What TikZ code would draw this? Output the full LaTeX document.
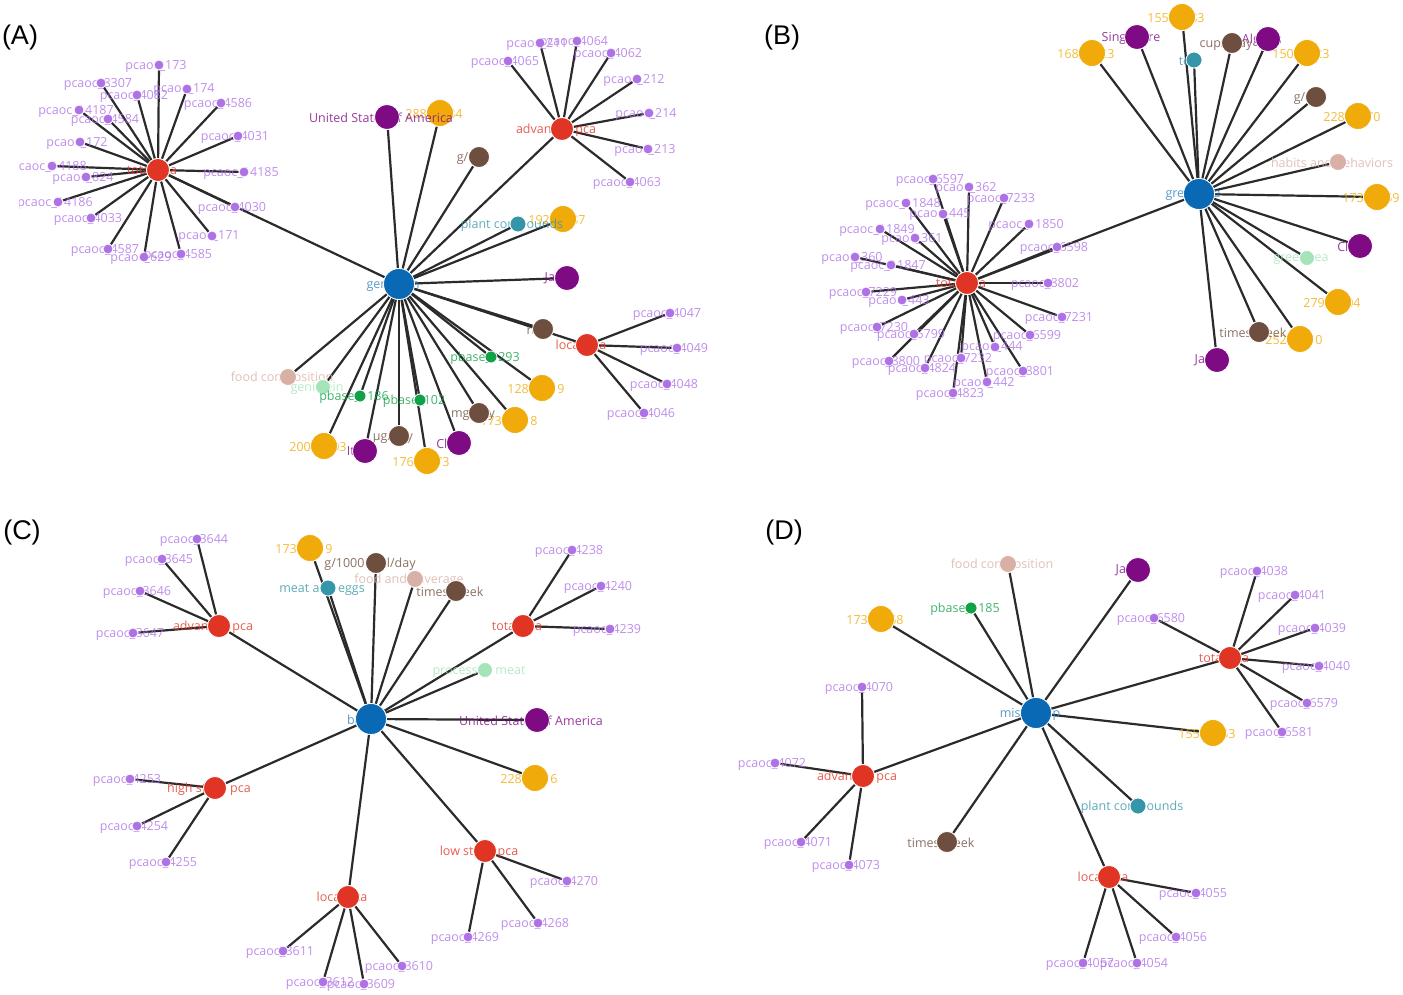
\documentclass[tikz,border=0pt]{standalone}
\usepackage{fontspec}
\setmainfont{Open Sans}
\newfontfamily\panelfont{Liberation Sans}

\definecolor{hubc}{HTML}{0A69B4}
\definecolor{pcac}{HTML}{E03424}
\definecolor{leafc}{HTML}{AE72E6}
\definecolor{ctyc}{HTML}{7E0A84}
\definecolor{pmidc}{HTML}{F0AA0A}
\definecolor{unitc}{HTML}{6E4E3E}
\definecolor{cmpdc}{HTML}{3496A8}
\definecolor{catc}{HTML}{D8B0A6}
\definecolor{chemc}{HTML}{A4E4B8}
\definecolor{pbasec}{HTML}{12A048}
\definecolor{edgec}{HTML}{2B2B2B}

\pgfdeclarelayer{links}
\pgfsetlayers{links,main}

% label first, its dot over it
\newcommand{\gnode}[6][-6]{%
  \begin{scope}
    \clip (19,0) rectangle (1403,995);
    \node[#3 txt] at (#4+#1,#5+1) {#6};
  \end{scope}
  \node[#3] (#2) at (#4,#5) {};}
\newcommand{\wire}[2]{%
  \begin{pgfonlayer}{links}\draw[wirestyle] (#1) -- (#2);\end{pgfonlayer}}

\begin{document}
\begin{tikzpicture}[
    x=0.5pt,
    y=-0.5pt,
    gdot/.style={circle, draw=white, line width=0.4pt, inner sep=0pt},
    hubn/.style={gdot, fill=hubc, minimum size=15.5pt},
    pcan/.style={gdot, fill=pcac, minimum size=11.5pt},
    leafn/.style={gdot, fill=leafc, minimum size=5pt},
    ctyn/.style={gdot, fill=ctyc, minimum size=12.5pt},
    pmidn/.style={gdot, fill=pmidc, minimum size=13.5pt},
    unitn/.style={gdot, fill=unitc, minimum size=10.5pt},
    cmpdn/.style={gdot, fill=cmpdc, minimum size=8pt},
    catn/.style={gdot, fill=catc, minimum size=8.5pt},
    chemn/.style={gdot, fill=chemc, minimum size=7.5pt},
    pbasen/.style={gdot, fill=pbasec, minimum size=6pt},
    lbl/.style={overlay, inner sep=0pt, text opacity=0.8,
      font=\fontsize{6.25}{7}\selectfont},
    hubn txt/.style={lbl, text=hubc!85!white},
    pcan txt/.style={lbl, text=pcac},
    leafn txt/.style={lbl, text=leafc},
    ctyn txt/.style={lbl, text=ctyc},
    pmidn txt/.style={lbl, text=pmidc},
    unitn txt/.style={lbl, text=unitc},
    cmpdn txt/.style={lbl, text=cmpdc},
    catn txt/.style={lbl, text=catc},
    chemn txt/.style={lbl, text=chemc},
    pbasen txt/.style={lbl, text=pbasec},
    wirestyle/.style={draw=edgec, line width=1.1pt},
    panel/.style={inner sep=0pt, font=\panelfont\fontsize{13.5}{14}\selectfont}
]
\path[use as bounding box] (0,0) rectangle (1403,995);

% ---------- (A)
\node[panel] (labA) at (20,38) {(A)};
\gnode{hA}{hubn}{399}{284}{genistein}
\gnode{tA}{pcan}{158}{170}{total pca}
\gnode{aA}{pcan}{562}{129}{advanced pca}
\gnode{lA}{pcan}{587}{345}{local pca}
\gnode{p288}{pmidn}{440}{113}{28856184}
\gnode{usaA}{ctyn}{387}{117}{United States of America}
\gnode{gdA}{unitn}{479}{157}{g/day}
\gnode{p192}{pmidn}{563}{219}{19266137}
\gnode{pcA}{cmpdn}{518}{224}{plant compounds}
\gnode{jaA}{ctyn}{567}{278}{Japan}
\gnode{riA}{unitn}{543}{329}{risk}
\gnode{pb1293}{pbasen}{491}{357}{pbase\_1293}
\gnode{p128}{pmidn}{542}{388}{12846119}
\gnode{fcA}{catn}{288}{377}{food composition}
\gnode{geA}{chemn}{323}{387}{genistein}
\gnode{pb1186}{pbasen}{360}{396}{pbase\_1186}
\gnode{pb102}{pbasen}{420}{400}{pbase\_102}
\gnode{p173A}{pmidn}{515}{420}{17353218}
\gnode{mgA}{unitn}{479}{413}{mg/day}
\gnode{ugA}{unitn}{399}{436}{µg/day}
\gnode{chA}{ctyn}{459}{443}{China}
\gnode{itA}{ctyn}{365}{451}{Italy}
\gnode{p200}{pmidn}{324}{446}{20087003}
\gnode{p176}{pmidn}{427}{461}{17632373}
\foreach \n in {tA,usaA,p288,gdA,aA,pcA,p192,jaA,riA,lA,pb1293,p128,fcA,geA,
  pb1186,pb102,mgA,p173A,ugA,chA,itA,p200,p176}
  {\wire{hA}{\n}}
\foreach \t/\x/\y in {173/159/65, 8307/101/83, 4082/137/95, 174/187/89,
  14187/79/110, 4586/221/103, 4584/108/119, 172/80/142, 4031/238/136,
  14188/52/166, 824/86/177, 14186/58/202, 4033/91/218, 14185/244/172,
  4030/235/207, 171/212/236, 4587/108/249, 629/144/257, 4585/181/254}
  {\gnode[-3]{a\t}{leafn}{\x}{\y}{pcaoc\_\t}\wire{tA}{a\t}}
\foreach \t/\x/\y in {4065/508/61, 211/540/43, 4064/577/41, 4062/611/53,
  212/637/79, 214/649/113, 213/648/149, 4063/630/182}
  {\gnode[-3]{a\t}{leafn}{\x}{\y}{pcaoc\_\t}\wire{aA}{a\t}}
\foreach \t/\x/\y in {4047/670/313, 4049/677/348, 4048/667/384, 4046/644/413}
  {\gnode[-3]{a\t}{leafn}{\x}{\y}{pcaoc\_\t}\wire{lA}{a\t}}

% ---------- (B)
\node[panel] (labB) at (782,38) {(B)};
\gnode{hB}{hubn}{1199}{194}{green tea}
\gnode{tB}{pcan}{967}{283}{total pca}
\gnode{p155B}{pmidn}{1182}{17}{15523683}
\gnode{p168}{pmidn}{1092}{53}{16829823}
\gnode{sgB}{ctyn}{1137}{37}{Singapore}
\gnode{teaB}{cmpdn}{1194}{60}{tea}
\gnode{alB}{ctyn}{1268}{39}{Algeria}
\gnode{cupB}{unitn}{1232}{43}{cups/day}
\gnode{p150}{pmidn}{1307}{53}{15047723}
\gnode{gdB}{unitn}{1316}{97}{g/day}
\gnode{p228B}{pmidn}{1358}{116}{22815470}
\gnode{hbB}{catn}{1338}{162}{habits and behaviors}
\gnode{p173B}{pmidn}{1377}{197}{17349559}
\gnode{chB}{ctyn}{1360}{246}{China}
\gnode{gtB}{chemn}{1307}{258}{green tea}
\gnode{p279}{pmidn}{1338}{302}{27926404}
\gnode{p252}{pmidn}{1300}{339}{25246210}
\gnode{twB}{unitn}{1259}{332}{times/week}
\gnode{jaB}{ctyn}{1217}{360}{Japan}
\foreach \n in {tB,p155B,sgB,p168,teaB,cupB,alB,p150,gdB,p228B,hbB,p173B,
  chB,gtB,p279,twB,p252,jaB}
  {\wire{hB}{\n}}
\foreach \t/\x/\y in {6597/933/179, 362/969/187, 7233/1004/198,
  11848/906/203, 445/943/214, 11850/1029/224, 11849/880/229, 361/915/238,
  6598/1057/247, 360/855/257, 11847/891/265, 8802/1048/283, 7229/866/292,
  443/902/300, 7231/1062/317, 7230/877/327, 5799/914/334, 6599/1030/335,
  444/995/347, 8800/889/361, 7232/961/358, 4824/925/368, 8801/1023/371,
  442/987/382, 4823/953/393}
  {\gnode[-3]{b\t}{leafn}{\x}{\y}{pcaoc\_\t}\wire{tB}{b\t}}

% ---------- (C)
\node[panel] (labC) at (22,533) {(C)};
\gnode{hC}{hubn}{371}{719}{bacon}
\gnode{aC}{pcan}{219}{626}{advanced pca}
\gnode{p173C}{pmidn}{310}{548}{17300519}
\gnode{gkC}{unitn}{376}{563}{g/1000 kcal/day}
\gnode{fbC}{catn}{415}{579}{food and beverage}
\gnode{meC}{cmpdn}{328}{588}{meat and eggs}
\gnode{twC}{unitn}{456}{591}{times/week}
\gnode{tC}{pcan}{523}{626}{total pca}
\gnode{pmC}{chemn}{485}{670}{processed meat}
\gnode{usC}{ctyn}{537}{720}{United States of America}
\gnode{p228C}{pmidn}{535}{778}{22895516}
\gnode{hsC}{pcan}{215}{788}{high stage pca}
\gnode{lC}{pcan}{348}{897}{local pca}
\gnode{lsC}{pcan}{485}{851}{low stage pca}
\foreach \n in {aC,p173C,meC,gkC,fbC,twC,tC,pmC,usC,p228C,lsC,lC,hsC}
  {\wire{hC}{\n}}
\foreach \t/\x/\y in {3644/197/539, 3645/162/559, 3646/140/591, 3647/133/633}
  {\gnode[-3]{c\t}{leafn}{\x}{\y}{pcaoc\_\t}\wire{aC}{c\t}}
\foreach \t/\x/\y in {4238/572/550, 4240/601/586, 4239/610/629}
  {\gnode[-3]{c\t}{leafn}{\x}{\y}{pcaoc\_\t}\wire{tC}{c\t}}
\foreach \t/\x/\y in {4253/130/779, 4254/137/826, 4255/166/862}
  {\gnode[-3]{c\t}{leafn}{\x}{\y}{pcaoc\_\t}\wire{hsC}{c\t}}
\foreach \t/\x/\y in {3611/283/951, 3612/323/982, 3609/364/984, 3610/402/966}
  {\gnode[-3]{c\t}{leafn}{\x}{\y}{pcaoc\_\t}\wire{lC}{c\t}}
\foreach \t/\x/\y in {4270/567/881, 4268/538/923, 4269/468/937}
  {\gnode[-3]{c\t}{leafn}{\x}{\y}{pcaoc\_\t}\wire{lsC}{c\t}}

% ---------- (D)
\node[panel] (labD) at (784,533) {(D)};
\gnode{hD}{hubn}{1036}{713}{miso soup}
\gnode{fcD}{catn}{1008}{564}{food composition}
\gnode{pbD}{pbasen}{971}{608}{pbase\_1185}
\gnode{p173D}{pmidn}{881}{619}{17357268}
\gnode{jaD}{ctyn}{1138}{570}{Japan}
\gnode{tD}{pcan}{1230}{658}{total pca}
\gnode{p155D}{pmidn}{1213}{733}{15565853}
\gnode{pcD}{cmpdn}{1138}{806}{plant compounds}
\gnode{lD}{pcan}{1109}{877}{local pca}
\gnode{aD}{pcan}{863}{776}{advanced pca}
\gnode{twD}{unitn}{947}{842}{times/week}
\foreach \n in {fcD,pbD,p173D,jaD,tD,p155D,pcD,lD,twD,aD}
  {\wire{hD}{\n}}
\foreach \t/\x/\y in {4038/1257/571, 4041/1295/595, 6580/1154/618,
  4039/1315/628, 4040/1319/666, 6579/1307/703, 6581/1282/732}
  {\gnode[-3]{d\t}{leafn}{\x}{\y}{pcaoc\_\t}\wire{tD}{d\t}}
\foreach \t/\x/\y in {4055/1196/893, 4056/1176/937, 4057/1083/963, 4054/1137/963}
  {\gnode[-3]{d\t}{leafn}{\x}{\y}{pcaoc\_\t}\wire{lD}{d\t}}
\foreach \t/\x/\y in {4070/862/687, 4072/775/763, 4071/801/842, 4073/849/865}
  {\gnode[-3]{d\t}{leafn}{\x}{\y}{pcaoc\_\t}\wire{aD}{d\t}}
\end{tikzpicture}
\end{document}
